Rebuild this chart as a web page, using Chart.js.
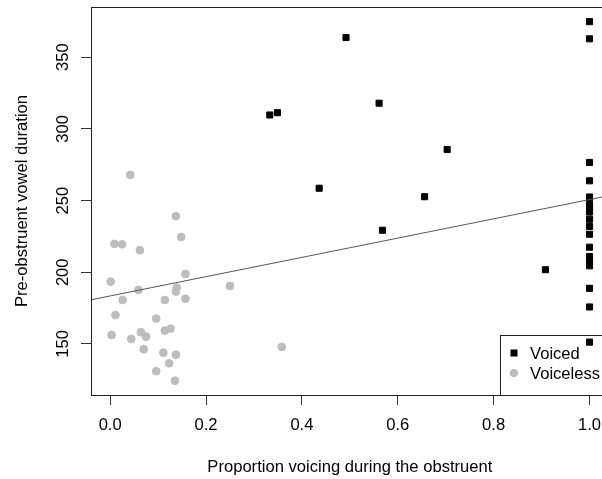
<!DOCTYPE html>
<html>
<head>
<meta charset="utf-8">
<script src="https://cdn.jsdelivr.net/npm/chart.js@4.4.1/dist/chart.umd.min.js"></script>
<style>
  html, body { margin: 0; padding: 0; overflow: hidden; background: #ffffff; }
  #wrap { width: 602px; height: 479px; overflow: hidden; }
  canvas { display: block; }
</style>
</head>
<body>
<div id="wrap"><canvas id="c" width="614" height="479"></canvas></div>
<script>
// ---- data ----
const voicedX = [0.333, 0.349, 0.436, 0.492, 0.561, 0.568, 0.656, 0.703, 0.908,
  1, 1, 1, 1, 1, 1, 1, 1, 1, 1, 1, 1, 1, 1, 1, 1, 1, 1];
const voicedY = [309.7, 311.3, 258.6, 363.7, 317.9, 229.3, 252.7, 285.6, 201.8,
  374.8, 362.8, 276.6, 263.8, 252.5, 248, 245, 242, 237, 232, 226.5, 217.5, 211, 207.5, 204.5, 188.8, 175.8, 151.3];

const voicelessX = [0.042, 0.137, 0.148, 0.009, 0.025, 0.062, 0.157, 0.001, 0.059, 0.139,
  0.137, 0.250, 0.026, 0.114, 0.157, 0.011, 0.096, 0.003, 0.064, 0.075,
  0.044, 0.114, 0.126, 0.070, 0.111, 0.137, 0.123, 0.096, 0.135, 0.358];
const voicelessY = [267.9, 239.1, 224.6, 219.8, 219.5, 215.4, 198.8, 193.5, 187.7, 189.3,
  186.5, 190.5, 180.7, 180.7, 181.6, 170.2, 167.7, 156.3, 158.2, 155.1,
  153.5, 159.3, 160.7, 146.3, 143.9, 142.5, 136.5, 131.0, 124.4, 147.9];

const fitX = [-0.04, 1.04];
const fitY = [180.8, 253.4];

const xTicks = [0, 0.2, 0.4, 0.6, 0.8, 1.0];
const yTicks = [150, 200, 250, 300, 350];

const seriesNames = ['Voiced', 'Voiceless'];
const xTitle = 'Proportion voicing during the obstruent';
const yTitle = 'Pre-obstruent vowel duration';

// ---- styling ----
const FONT = '"Liberation Sans", Arial, Helvetica, sans-serif';
const FSIZE = 16.6;
const GRAY = '#bdbdbd';

const toPts = (xs, ys) => xs.map((x, i) => ({ x: x, y: ys[i] }));

const framePlugin = {
  id: 'frame',
  afterDraw(chart) {
    const ctx = chart.ctx;
    const a = chart.chartArea;
    const ys = chart.scales.y;
    ctx.save();
    // plot box
    ctx.strokeStyle = '#222';
    ctx.lineWidth = 1;
    ctx.strokeRect(Math.round(a.left) + 0.5, Math.round(a.top) + 0.5,
      Math.round(a.right - a.left) + 10, Math.round(a.bottom - a.top));
    // rotated y tick labels
    ctx.fillStyle = '#000';
    ctx.font = FSIZE + 'px ' + FONT;
    ctx.textAlign = 'center';
    ctx.textBaseline = 'middle';
    yTicks.forEach(v => {
      const py = ys.getPixelForValue(v);
      ctx.save();
      ctx.translate(63, py);
      ctx.rotate(-Math.PI / 2);
      ctx.fillText(String(v), 0, 0);
      ctx.restore();
    });
    // legend (bottom right)
    const lx = 500, ly = 335;
    ctx.strokeStyle = '#222';
    ctx.strokeRect(lx + 0.5, ly + 0.5, 200, Math.round(a.bottom) - ly);
    ctx.textAlign = 'left';
    ctx.textBaseline = 'middle';
    ctx.fillStyle = '#000';
    ctx.fillRect(514 - 3.5, 353 - 3.5, 7, 7);
    ctx.fillText(seriesNames[0], 530, 354);
    ctx.fillStyle = GRAY;
    ctx.beginPath();
    ctx.arc(514, 373, 4.3, 0, Math.PI * 2);
    ctx.fill();
    ctx.fillStyle = '#000';
    ctx.fillText(seriesNames[1], 530, 374);
    ctx.restore();
  }
};

new Chart(document.getElementById('c'), {
  type: 'scatter',
  data: {
    datasets: [
      {
        type: 'line',
        label: 'fit',
        data: toPts(fitX, fitY),
        borderColor: '#555',
        borderWidth: 1,
        pointRadius: 0,
        fill: false,
        order: 0
      },
      {
        label: seriesNames[0],
        data: toPts(voicedX, voicedY),
        pointStyle: 'rect',
        pointRadius: 4.3,
        pointBorderWidth: 1,
        backgroundColor: '#000',
        borderColor: '#000',
        order: 1
      },
      {
        label: seriesNames[1],
        data: toPts(voicelessX, voicelessY),
        pointStyle: 'circle',
        pointRadius: 3.9,
        pointBorderWidth: 1,
        backgroundColor: GRAY,
        borderColor: GRAY,
        order: 2
      }
    ]
  },
  options: {
    responsive: false,
    devicePixelRatio: 1,
    animation: false,
    layout: { padding: { top: 7, right: 1, left: 0, bottom: 0 } },
    plugins: { legend: { display: false }, tooltip: { enabled: false } },
    scales: {
      x: {
        type: 'linear',
        min: -0.04,
        max: 1.04,
        afterBuildTicks: s => { s.ticks = xTicks.map(v => ({ value: v })); },
        afterFit: s => { s.height = 84; s.paddingLeft = 0; s.paddingRight = 0; },
        grid: { drawOnChartArea: false, drawTicks: true, tickLength: 10, color: '#333' },
        border: { display: false },
        ticks: {
          callback: v => Number(v).toFixed(1),
          color: '#000',
          font: { family: FONT, size: FSIZE },
          padding: 10,
          maxRotation: 0,
          autoSkip: false
        },
        title: {
          display: true,
          text: xTitle,
          color: '#000',
          font: { family: FONT, size: FSIZE },
          padding: { top: 0, bottom: 2 }
        }
      },
      y: {
        type: 'linear',
        min: 114.4,
        max: 385.0,
        afterBuildTicks: s => { s.ticks = yTicks.map(v => ({ value: v })); },
        afterFit: s => { s.width = 91; s.paddingTop = 0; s.paddingBottom = 0; },
        grid: { drawOnChartArea: false, drawTicks: true, tickLength: 10, color: '#333' },
        border: { display: false },
        ticks: { display: false },
        title: {
          display: true,
          text: yTitle,
          color: '#000',
          font: { family: FONT, size: FSIZE },
          padding: { top: 12, bottom: 0 }
        }
      }
    }
  },
  plugins: [framePlugin]
});
</script>
</body>
</html>
